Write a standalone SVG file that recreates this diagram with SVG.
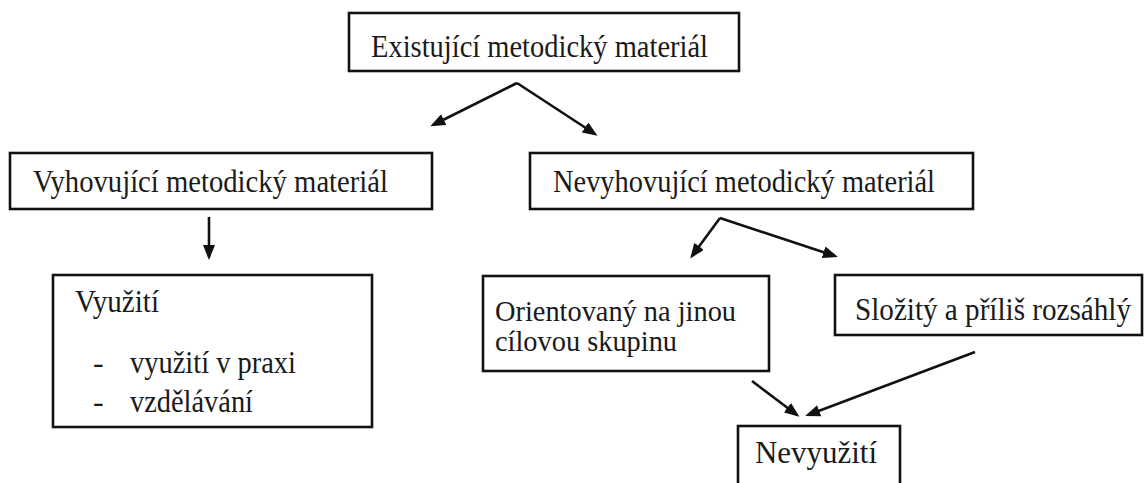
<svg xmlns="http://www.w3.org/2000/svg" width="1145" height="483" viewBox="0 0 1145 483">
<style>
.box{fill:#fff;stroke:#111;stroke-width:2.6}
.t{font-family:"Liberation Serif","Times New Roman",serif;font-size:32px;fill:#1a1a1a}
.t2{font-size:30px}
.c{stroke:#111;stroke-width:2.6;fill:none;marker-end:url(#ah)}
</style>
<defs>
<marker id="ah" markerUnits="userSpaceOnUse" markerWidth="16" markerHeight="12" refX="12" refY="6" orient="auto">
<path d="M0,0 L15,6 L0,12 z" fill="#111"/>
</marker>
</defs>
<rect width="1145" height="483" fill="#fff"/>
<g id="n-existujici">
<rect class="box" x="349" y="13" width="390" height="58"/>
<text class="t" x="371" y="57" textLength="337" lengthAdjust="spacingAndGlyphs">Existující metodický materiál</text>
</g>
<g id="n-vyhovujici">
<rect class="box" x="10" y="153" width="422" height="56"/>
<text class="t" x="33" y="192" textLength="355" lengthAdjust="spacingAndGlyphs">Vyhovující metodický materiál</text>
</g>
<g id="n-nevyhovujici">
<rect class="box" x="530" y="153" width="443" height="56"/>
<text class="t" x="553" y="192" textLength="382" lengthAdjust="spacingAndGlyphs">Nevyhovující metodický materiál</text>
</g>
<g id="n-vyuziti">
<rect class="box" x="53" y="275" width="319" height="152"/>
<text class="t" x="75" y="312" textLength="84" lengthAdjust="spacingAndGlyphs">Využití</text>
<text class="t" x="93" y="373">-</text>
<text class="t" x="130" y="373" textLength="166" lengthAdjust="spacingAndGlyphs">využití v praxi</text>
<text class="t" x="93" y="412">-</text>
<text class="t" x="130" y="412" textLength="123" lengthAdjust="spacingAndGlyphs">vzdělávání</text>
</g>
<g id="n-orientovany">
<rect class="box" x="483" y="276" width="286" height="95"/>
<text class="t t2" x="495" y="321" textLength="241" lengthAdjust="spacingAndGlyphs">Orientovaný na jinou</text>
<text class="t t2" x="495" y="351" textLength="182" lengthAdjust="spacingAndGlyphs">cílovou skupinu</text>
</g>
<g id="n-slozity">
<rect class="box" x="835" y="275" width="307" height="60"/>
<text class="t" x="855" y="320" font-size="30.5" textLength="276" lengthAdjust="spacingAndGlyphs">Složitý a příliš rozsáhlý</text>
</g>
<g id="n-nevyuziti">
<rect class="box" x="738" y="426" width="162" height="70"/>
<text class="t" x="755" y="463" textLength="122" lengthAdjust="spacingAndGlyphs">Nevyužití</text>
</g>
<g id="connectors">
<path class="c" d="M517,83 L433,125"/>
<path class="c" d="M517,83 L595,134"/>
<path class="c" d="M209,217 L209,257"/>
<path class="c" d="M720,218 L692,256"/>
<path class="c" d="M720,218 L835,256"/>
<path class="c" d="M752,381 L797,415"/>
<path class="c" d="M975,352 L808,415"/>
</g>
</svg>
